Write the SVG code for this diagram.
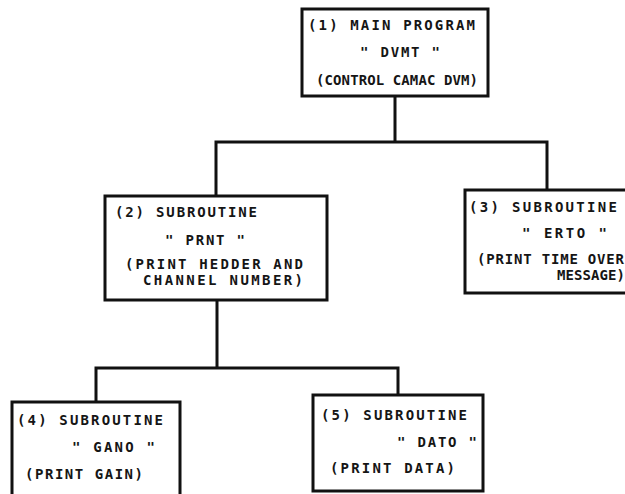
<svg xmlns="http://www.w3.org/2000/svg" width="625" height="494" viewBox="0 0 625 494">
<style>
  .box { fill: #ffffff; stroke: #111; stroke-width: 3; }
  .wire { fill: none; stroke: #111; stroke-width: 3; stroke-linecap: square; }
  text { font-family: "DejaVu Sans Mono", "Liberation Mono", monospace; font-size: 14px; font-weight: bold; fill: #151515; }
</style>
<rect width="625" height="494" fill="#ffffff"/>
<g id="connectors">
  <path class="wire" d="M395 96 V142 M216 142 H547 M216 142 V196 M547 142 V190"/>
  <path class="wire" d="M217 300 V368 M96 368 H398 M96 368 V402 M398 368 V395"/>
</g>
<g id="node1">
  <rect class="box" x="302" y="9" width="186" height="87"/>
  <text x="308" y="30" textLength="167" lengthAdjust="spacing">(1) MAIN PROGRAM</text>
  <text x="360" y="57" textLength="80" lengthAdjust="spacing">" DVMT "</text>
  <text x="316" y="85" textLength="162" lengthAdjust="spacing">(CONTROL CAMAC DVM)</text>
</g>
<g id="node2">
  <rect class="box" x="105" y="196" width="222" height="104"/>
  <text x="115" y="217" textLength="142" lengthAdjust="spacing">(2) SUBROUTINE</text>
  <text x="165" y="245" textLength="80" lengthAdjust="spacing">" PRNT "</text>
  <text x="125" y="269" textLength="178" lengthAdjust="spacing">(PRINT HEDDER AND</text>
  <text x="143" y="285" textLength="160" lengthAdjust="spacing">CHANNEL NUMBER)</text>
</g>
<g id="node3">
  <rect class="box" x="465" y="190" width="166" height="103"/>
  <text x="469" y="212" textLength="148" lengthAdjust="spacing">(3) SUBROUTINE</text>
  <text x="522" y="238" textLength="85" lengthAdjust="spacing">" ERTO "</text>
  <text x="477" y="264" textLength="147" lengthAdjust="spacing">(PRINT TIME OVER</text>
  <text x="557" y="280" textLength="68" lengthAdjust="spacing">MESSAGE)</text>
</g>
<g id="node4">
  <rect class="box" x="12" y="402" width="168" height="100"/>
  <text x="17" y="425" textLength="146" lengthAdjust="spacing">(4) SUBROUTINE</text>
  <text x="72" y="452" textLength="83" lengthAdjust="spacing">" GANO "</text>
  <text x="25" y="479" textLength="118" lengthAdjust="spacing">(PRINT GAIN)</text>
</g>
<g id="node5">
  <rect class="box" x="313" y="395" width="170" height="96"/>
  <text x="321" y="420" textLength="146" lengthAdjust="spacing">(5) SUBROUTINE</text>
  <text x="397" y="447" textLength="80" lengthAdjust="spacing">" DATO "</text>
  <text x="330" y="473" textLength="125" lengthAdjust="spacing">(PRINT DATA)</text>
</g>
</svg>
